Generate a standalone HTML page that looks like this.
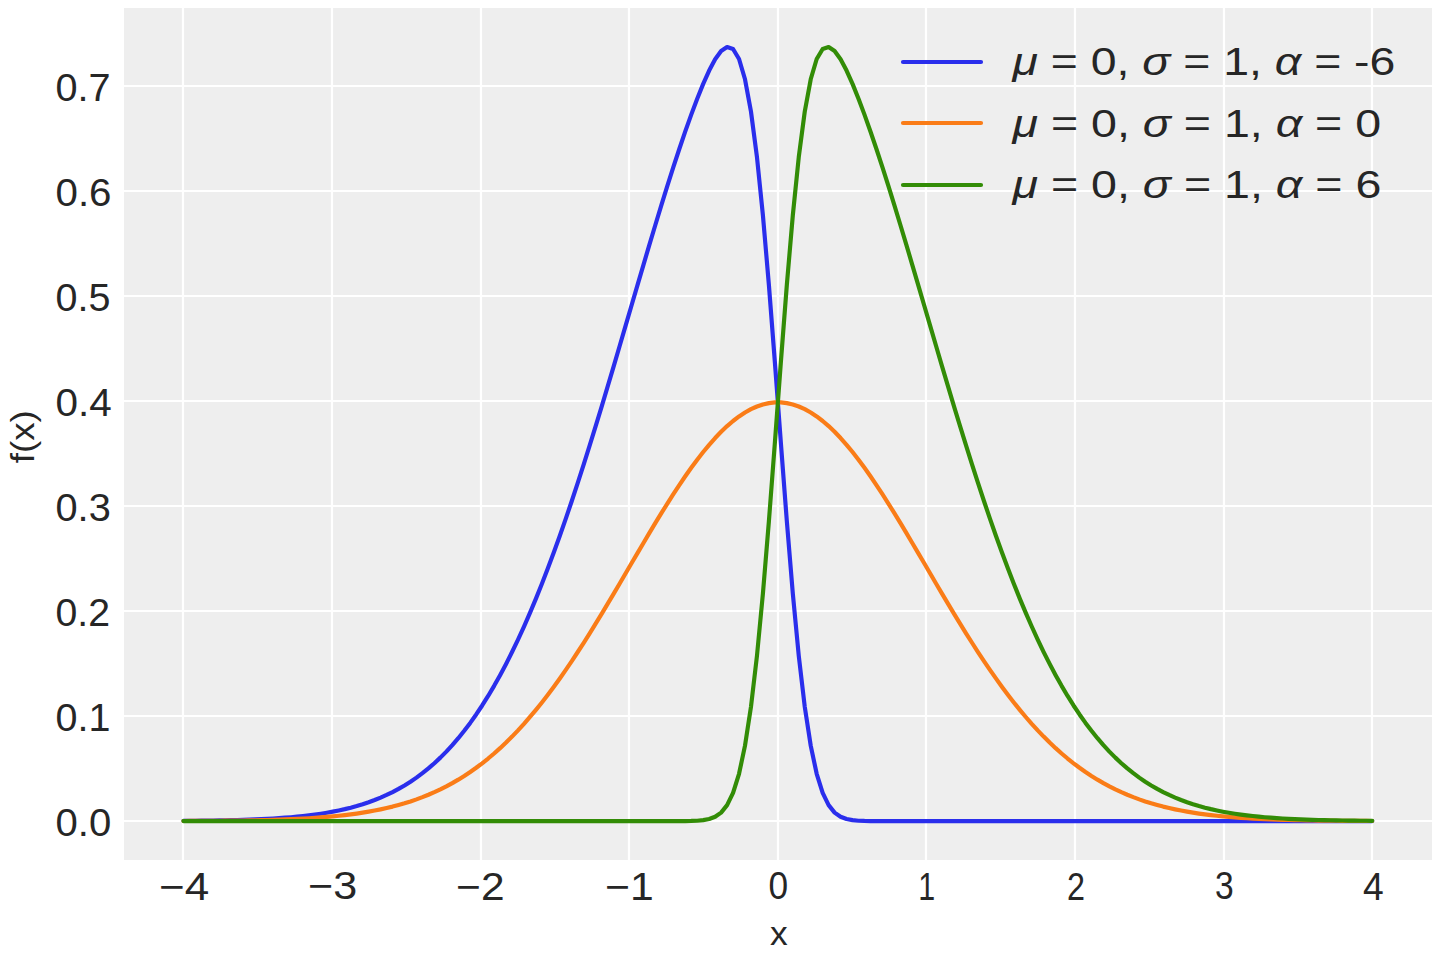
<!DOCTYPE html>
<html lang="en">
<head>
<meta charset="utf-8">
<title>Skew-normal distribution: probability density functions</title>
<style>
html,body{margin:0;padding:0;background:#ffffff;width:1440px;height:960px;overflow:hidden;font-family:"Liberation Sans",sans-serif}
#chart{display:block;position:absolute;left:0;top:0;width:1440px;height:960px}
</style>
</head>
<body>
<svg id="chart" width="1440" height="960" viewBox="0 0 1440 960" role="img" aria-label="Skew-normal probability density functions">
<rect id="figure-bg" x="0" y="0" width="1440" height="960" fill="#ffffff"/>
<rect id="axes-bg" x="124" y="8" width="1308" height="852" fill="#eeeeee"/>
<g id="grid" stroke="#ffffff" stroke-width="2.222">
<line x1="183" y1="8" x2="183" y2="860"/>
<line x1="332" y1="8" x2="332" y2="860"/>
<line x1="481" y1="8" x2="481" y2="860"/>
<line x1="629" y1="8" x2="629" y2="860"/>
<line x1="778" y1="8" x2="778" y2="860"/>
<line x1="926" y1="8" x2="926" y2="860"/>
<line x1="1075" y1="8" x2="1075" y2="860"/>
<line x1="1224" y1="8" x2="1224" y2="860"/>
<line x1="1372" y1="8" x2="1372" y2="860"/>
<line x1="124" y1="821" x2="1432" y2="821"/>
<line x1="124" y1="716" x2="1432" y2="716"/>
<line x1="124" y1="611" x2="1432" y2="611"/>
<line x1="124" y1="506" x2="1432" y2="506"/>
<line x1="124" y1="401" x2="1432" y2="401"/>
<line x1="124" y1="296" x2="1432" y2="296"/>
<line x1="124" y1="191" x2="1432" y2="191"/>
<line x1="124" y1="86" x2="1432" y2="86"/>
</g>
<g id="curves" fill="none" stroke-width="4.167" stroke-linecap="round" stroke-linejoin="round">
<polyline id="pdf-alpha--6" stroke="#2a2eec" points="183.5,820.83 189.47,820.79 195.44,820.73 201.42,820.66 207.39,820.59 213.36,820.5 219.34,820.4 225.31,820.28 231.29,820.15 237.26,820 243.23,819.82 249.21,819.62 255.18,819.39 261.15,819.13 267.13,818.84 273.1,818.5 279.07,818.12 285.05,817.69 291.02,817.21 296.99,816.66 302.97,816.05 308.94,815.36 314.91,814.58 320.89,813.72 326.86,812.75 332.84,811.67 338.81,810.47 344.78,809.14 350.76,807.66 356.73,806.02 362.7,804.22 368.68,802.22 374.65,800.03 380.62,797.62 386.6,794.97 392.57,792.08 398.54,788.91 404.52,785.46 410.49,781.7 416.47,777.62 422.44,773.19 428.41,768.39 434.39,763.21 440.36,757.62 446.33,751.61 452.31,745.15 458.28,738.22 464.25,730.81 470.23,722.89 476.2,714.45 482.17,705.48 488.15,695.95 494.12,685.85 500.09,675.17 506.07,663.91 512.04,652.05 518.02,639.59 523.99,626.53 529.96,612.86 535.94,598.6 541.91,583.74 547.88,568.29 553.86,552.28 559.83,535.71 565.8,518.62 571.78,501.01 577.75,482.93 583.72,464.41 589.7,445.47 595.67,426.17 601.65,406.55 607.62,386.66 613.59,366.55 619.57,346.28 625.54,325.9 631.51,305.48 637.49,285.09 643.46,264.79 649.43,244.65 655.41,224.75 661.38,205.16 667.35,185.96 673.33,167.22 679.3,149.02 685.27,131.45 691.25,114.63 697.22,98.7 703.2,83.89 709.17,70.57 715.14,59.33 721.12,51.05 727.09,47.03 733.06,49.01 739.04,59.03 745.01,79.28 750.98,111.61 756.96,157.1 762.93,215.52 768.9,285.03 774.88,362.25 780.85,442.63 786.83,521.21 792.8,593.42 798.77,655.87 804.75,706.7 810.72,745.67 816.69,773.8 822.67,792.93 828.64,805.18 834.61,812.58 840.59,816.78 846.56,819.03 852.53,820.17 858.51,820.71 864.48,820.95 870.46,821.05 876.43,821.09 882.4,821.11 888.38,821.11 894.35,821.12 900.32,821.12 906.3,821.12 912.27,821.12 918.24,821.12 924.22,821.12 930.19,821.12 936.16,821.12 942.14,821.12 948.11,821.12 954.08,821.12 960.06,821.12 966.03,821.12 972.01,821.12 977.98,821.12 983.95,821.12 989.93,821.12 995.9,821.12 1001.87,821.12 1007.85,821.12 1013.82,821.12 1019.79,821.12 1025.77,821.12 1031.74,821.12 1037.71,821.12 1043.69,821.12 1049.66,821.12 1055.64,821.12 1061.61,821.12 1067.58,821.12 1073.56,821.12 1079.53,821.12 1085.5,821.12 1091.48,821.12 1097.45,821.12 1103.42,821.12 1109.4,821.12 1115.37,821.12 1121.34,821.12 1127.32,821.12 1133.29,821.12 1139.26,821.12 1145.24,821.12 1151.21,821.12 1157.19,821.12 1163.16,821.12 1169.13,821.12 1175.11,821.12 1181.08,821.12 1187.05,821.12 1193.03,821.12 1199,821.12 1204.97,821.12 1210.95,821.12 1216.92,821.12 1222.89,821.12 1228.87,821.12 1234.84,821.12 1240.82,821.12 1246.79,821.12 1252.76,821.12 1258.74,821.12 1264.71,821.12 1270.68,821.12 1276.66,821.12 1282.63,821.12 1288.6,821.12 1294.58,821.12 1300.55,821.12 1306.52,821.12 1312.5,821.12 1318.47,821.12 1324.44,821.12 1330.42,821.12 1336.39,821.12 1342.37,821.12 1348.34,821.12 1354.31,821.12 1360.29,821.12 1366.26,821.12 1372.23,821.12"/>
<polyline id="pdf-alpha-0" stroke="#fa7c17" points="183.5,820.98 189.47,820.95 195.44,820.92 201.42,820.89 207.39,820.85 213.36,820.81 219.34,820.76 225.31,820.7 231.29,820.63 237.26,820.56 243.23,820.47 249.21,820.37 255.18,820.25 261.15,820.12 267.13,819.98 273.1,819.81 279.07,819.62 285.05,819.4 291.02,819.16 296.99,818.89 302.97,818.58 308.94,818.24 314.91,817.85 320.89,817.42 326.86,816.93 332.84,816.39 338.81,815.79 344.78,815.13 350.76,814.39 356.73,813.57 362.7,812.67 368.68,811.67 374.65,810.57 380.62,809.37 386.6,808.04 392.57,806.6 398.54,805.01 404.52,803.29 410.49,801.41 416.47,799.37 422.44,797.15 428.41,794.75 434.39,792.16 440.36,789.37 446.33,786.36 452.31,783.13 458.28,779.67 464.25,775.96 470.23,772 476.2,767.78 482.17,763.3 488.15,758.53 494.12,753.48 500.09,748.15 506.07,742.51 512.04,736.58 518.02,730.35 523.99,723.82 529.96,716.99 535.94,709.86 541.91,702.43 547.88,694.7 553.86,686.7 559.83,678.42 565.8,669.87 571.78,661.06 577.75,652.02 583.72,642.76 589.7,633.29 595.67,623.65 601.65,613.84 607.62,603.89 613.59,593.83 619.57,583.7 625.54,573.51 631.51,563.3 637.49,553.1 643.46,542.95 649.43,532.88 655.41,522.93 661.38,513.14 667.35,503.54 673.33,494.16 679.3,485.05 685.27,476.25 691.25,467.79 697.22,459.7 703.2,452.03 709.17,444.8 715.14,438.05 721.12,431.81 727.09,426.11 733.06,420.97 739.04,416.41 745.01,412.47 750.98,409.16 756.96,406.48 762.93,404.47 768.9,403.12 774.88,402.44 780.85,402.44 786.83,403.12 792.8,404.47 798.77,406.48 804.75,409.16 810.72,412.47 816.69,416.41 822.67,420.97 828.64,426.11 834.61,431.81 840.59,438.05 846.56,444.8 852.53,452.03 858.51,459.7 864.48,467.79 870.46,476.25 876.43,485.05 882.4,494.16 888.38,503.54 894.35,513.14 900.32,522.93 906.3,532.88 912.27,542.95 918.24,553.1 924.22,563.3 930.19,573.51 936.16,583.7 942.14,593.83 948.11,603.89 954.08,613.84 960.06,623.65 966.03,633.29 972.01,642.76 977.98,652.02 983.95,661.06 989.93,669.87 995.9,678.42 1001.87,686.7 1007.85,694.7 1013.82,702.43 1019.79,709.86 1025.77,716.99 1031.74,723.82 1037.71,730.35 1043.69,736.58 1049.66,742.51 1055.64,748.15 1061.61,753.48 1067.58,758.53 1073.56,763.3 1079.53,767.78 1085.5,772 1091.48,775.96 1097.45,779.67 1103.42,783.13 1109.4,786.36 1115.37,789.37 1121.34,792.16 1127.32,794.75 1133.29,797.15 1139.26,799.37 1145.24,801.41 1151.21,803.29 1157.19,805.01 1163.16,806.6 1169.13,808.04 1175.11,809.37 1181.08,810.57 1187.05,811.67 1193.03,812.67 1199,813.57 1204.97,814.39 1210.95,815.13 1216.92,815.79 1222.89,816.39 1228.87,816.93 1234.84,817.42 1240.82,817.85 1246.79,818.24 1252.76,818.58 1258.74,818.89 1264.71,819.16 1270.68,819.4 1276.66,819.62 1282.63,819.81 1288.6,819.98 1294.58,820.12 1300.55,820.25 1306.52,820.37 1312.5,820.47 1318.47,820.56 1324.44,820.63 1330.42,820.7 1336.39,820.76 1342.37,820.81 1348.34,820.85 1354.31,820.89 1360.29,820.92 1366.26,820.95 1372.23,820.98"/>
<polyline id="pdf-alpha-6" stroke="#328c06" points="183.5,821.12 189.47,821.12 195.44,821.12 201.42,821.12 207.39,821.12 213.36,821.12 219.34,821.12 225.31,821.12 231.29,821.12 237.26,821.12 243.23,821.12 249.21,821.12 255.18,821.12 261.15,821.12 267.13,821.12 273.1,821.12 279.07,821.12 285.05,821.12 291.02,821.12 296.99,821.12 302.97,821.12 308.94,821.12 314.91,821.12 320.89,821.12 326.86,821.12 332.84,821.12 338.81,821.12 344.78,821.12 350.76,821.12 356.73,821.12 362.7,821.12 368.68,821.12 374.65,821.12 380.62,821.12 386.6,821.12 392.57,821.12 398.54,821.12 404.52,821.12 410.49,821.12 416.47,821.12 422.44,821.12 428.41,821.12 434.39,821.12 440.36,821.12 446.33,821.12 452.31,821.12 458.28,821.12 464.25,821.12 470.23,821.12 476.2,821.12 482.17,821.12 488.15,821.12 494.12,821.12 500.09,821.12 506.07,821.12 512.04,821.12 518.02,821.12 523.99,821.12 529.96,821.12 535.94,821.12 541.91,821.12 547.88,821.12 553.86,821.12 559.83,821.12 565.8,821.12 571.78,821.12 577.75,821.12 583.72,821.12 589.7,821.12 595.67,821.12 601.65,821.12 607.62,821.12 613.59,821.12 619.57,821.12 625.54,821.12 631.51,821.12 637.49,821.12 643.46,821.12 649.43,821.12 655.41,821.12 661.38,821.12 667.35,821.11 673.33,821.11 679.3,821.09 685.27,821.05 691.25,820.95 697.22,820.71 703.2,820.17 709.17,819.03 715.14,816.78 721.12,812.58 727.09,805.18 733.06,792.93 739.04,773.8 745.01,745.67 750.98,706.7 756.96,655.87 762.93,593.42 768.9,521.21 774.88,442.63 780.85,362.25 786.83,285.03 792.8,215.52 798.77,157.1 804.75,111.61 810.72,79.28 816.69,59.03 822.67,49.01 828.64,47.03 834.61,51.05 840.59,59.33 846.56,70.57 852.53,83.89 858.51,98.7 864.48,114.63 870.46,131.45 876.43,149.02 882.4,167.22 888.38,185.96 894.35,205.16 900.32,224.75 906.3,244.65 912.27,264.79 918.24,285.09 924.22,305.48 930.19,325.9 936.16,346.28 942.14,366.55 948.11,386.66 954.08,406.55 960.06,426.17 966.03,445.47 972.01,464.41 977.98,482.93 983.95,501.01 989.93,518.62 995.9,535.71 1001.87,552.28 1007.85,568.29 1013.82,583.74 1019.79,598.6 1025.77,612.86 1031.74,626.53 1037.71,639.59 1043.69,652.05 1049.66,663.91 1055.64,675.17 1061.61,685.85 1067.58,695.95 1073.56,705.48 1079.53,714.45 1085.5,722.89 1091.48,730.81 1097.45,738.22 1103.42,745.15 1109.4,751.61 1115.37,757.62 1121.34,763.21 1127.32,768.39 1133.29,773.19 1139.26,777.62 1145.24,781.7 1151.21,785.46 1157.19,788.91 1163.16,792.08 1169.13,794.97 1175.11,797.62 1181.08,800.03 1187.05,802.22 1193.03,804.22 1199,806.02 1204.97,807.66 1210.95,809.14 1216.92,810.47 1222.89,811.67 1228.87,812.75 1234.84,813.72 1240.82,814.58 1246.79,815.36 1252.76,816.05 1258.74,816.66 1264.71,817.21 1270.68,817.69 1276.66,818.12 1282.63,818.5 1288.6,818.84 1294.58,819.13 1300.55,819.39 1306.52,819.62 1312.5,819.82 1318.47,820 1324.44,820.15 1330.42,820.28 1336.39,820.4 1342.37,820.5 1348.34,820.59 1354.31,820.66 1360.29,820.73 1366.26,820.79 1372.23,820.83"/>
</g>
<g id="legend-handles" fill="none" stroke-width="4.167" stroke-linecap="round">
<line stroke="#2a2eec" x1="903" y1="62" x2="981" y2="62"/>
<line stroke="#fa7c17" x1="903" y1="123" x2="981" y2="123"/>
<line stroke="#328c06" x1="903" y1="185" x2="981" y2="185"/>
</g>
<g id="label-text" fill="#262626" font-family='"Liberation Sans", sans-serif'>
<text x="159.12" y="900" font-size="38.89" textLength="50.12" lengthAdjust="spacingAndGlyphs">&#8722;4</text>
<text x="308.12" y="899" font-size="38.89" textLength="49.12" lengthAdjust="spacingAndGlyphs">&#8722;3</text>
<text x="456.12" y="900" font-size="38.89" textLength="48.38" lengthAdjust="spacingAndGlyphs">&#8722;2</text>
<text x="605.12" y="900" font-size="38.89" textLength="48.75" lengthAdjust="spacingAndGlyphs">&#8722;1</text>
<text x="768.5" y="899" font-size="38.89" textLength="19.62" lengthAdjust="spacingAndGlyphs">0</text>
<text x="918.31" y="900" font-size="38.89" textLength="16.94" lengthAdjust="spacingAndGlyphs">1</text>
<text x="1066.88" y="900" font-size="38.89" textLength="18" lengthAdjust="spacingAndGlyphs">2</text>
<text x="1214.94" y="899" font-size="38.89" textLength="18.69" lengthAdjust="spacingAndGlyphs">3</text>
<text x="1362.94" y="900" font-size="38.89" textLength="20.69" lengthAdjust="spacingAndGlyphs">4</text>
<text x="769.97" y="945" font-size="33.33" textLength="17.69" lengthAdjust="spacingAndGlyphs">x</text>
<text x="55.5" y="836" font-size="38.89" textLength="55.75" lengthAdjust="spacingAndGlyphs">0.0</text>
<text x="55.5" y="731" font-size="38.89" textLength="54.88" lengthAdjust="spacingAndGlyphs">0.1</text>
<text x="55.5" y="626" font-size="38.89" textLength="54.5" lengthAdjust="spacingAndGlyphs">0.2</text>
<text x="55.5" y="521" font-size="38.89" textLength="55.25" lengthAdjust="spacingAndGlyphs">0.3</text>
<text x="55.5" y="416" font-size="38.89" textLength="56.25" lengthAdjust="spacingAndGlyphs">0.4</text>
<text x="55.5" y="311" font-size="38.89" textLength="54.88" lengthAdjust="spacingAndGlyphs">0.5</text>
<text x="55.5" y="206" font-size="38.89" textLength="56" lengthAdjust="spacingAndGlyphs">0.6</text>
<text x="55.5" y="101" font-size="38.89" textLength="55.12" lengthAdjust="spacingAndGlyphs">0.7</text>
<text transform="translate(34 463.25) rotate(-90)" font-size="33.33" textLength="52.91" lengthAdjust="spacingAndGlyphs">f(x)</text>
<text x="1012.48" y="75" font-size="38.89" textLength="382.89" lengthAdjust="spacingAndGlyphs"><tspan font-style="italic">&#956;</tspan> = 0, <tspan font-style="italic">&#963;</tspan> = 1, <tspan font-style="italic">&#945;</tspan> = -6</text>
<text x="1012.48" y="137" font-size="38.89" textLength="368.64" lengthAdjust="spacingAndGlyphs"><tspan font-style="italic">&#956;</tspan> = 0, <tspan font-style="italic">&#963;</tspan> = 1, <tspan font-style="italic">&#945;</tspan> = 0</text>
<text x="1012.48" y="198" font-size="38.89" textLength="368.89" lengthAdjust="spacingAndGlyphs"><tspan font-style="italic">&#956;</tspan> = 0, <tspan font-style="italic">&#963;</tspan> = 1, <tspan font-style="italic">&#945;</tspan> = 6</text>
</g>
</svg>
</body>
</html>
